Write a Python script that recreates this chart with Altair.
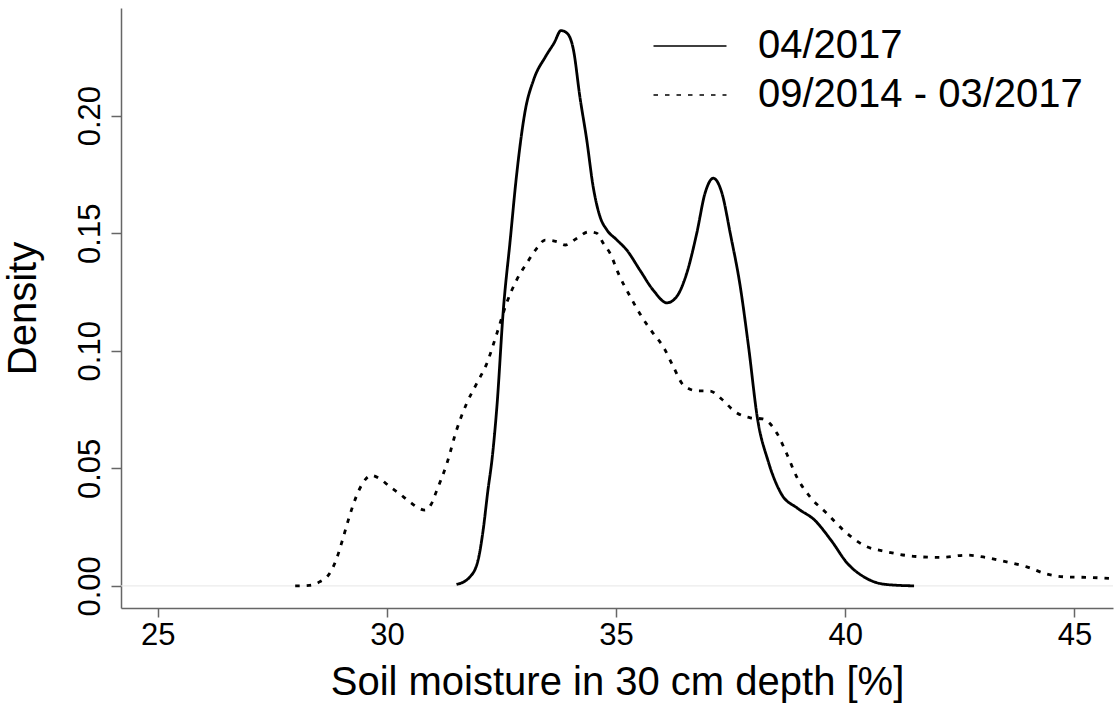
import altair as alt
import pandas as pd

series_names = ["04/2017", "09/2014 - 03/2017"]

# 04/2017 density curve (solid)
apr2017_x = [31.52, 31.81, 31.99, 32.10, 32.20, 32.30, 32.40, 32.54, 32.69, 32.82,
             33.02, 33.20, 33.46, 33.65, 33.80, 33.93, 34.07, 34.21, 34.36, 34.50,
             34.65, 34.80, 35.02, 35.23, 35.52, 35.81, 36.11, 36.32, 36.54, 36.76,
             36.94, 37.12, 37.31, 37.49, 37.71, 37.89, 38.09, 38.31, 38.60, 38.96,
             39.33, 39.69, 40.05, 40.41, 40.85, 41.50]
apr2017_y = [0.0006, 0.0038, 0.0110, 0.0237, 0.0400, 0.0549, 0.0762, 0.1173, 0.1470, 0.1730,
             0.2024, 0.2152, 0.2251, 0.2310, 0.2362, 0.2351, 0.2280, 0.2081, 0.1897, 0.1698,
             0.1570, 0.1514, 0.1471, 0.1429, 0.1343, 0.1258, 0.1204, 0.1230, 0.1329, 0.1500,
             0.1670, 0.1734, 0.1670, 0.1500, 0.1272, 0.1017, 0.0705, 0.0535, 0.0393, 0.0330,
             0.0280, 0.0194, 0.0095, 0.0038, 0.0007, 0.0000]

# 09/2014 - 03/2017 density curve (dotted)
hist_x = [28.00, 28.31, 28.53, 28.75, 28.89, 29.03, 29.18, 29.33, 29.47, 29.66,
          29.85, 30.07, 30.27, 30.50, 30.70, 30.83, 30.96, 31.09, 31.31, 31.52,
          31.74, 31.96, 32.18, 32.40, 32.61, 32.83, 33.05, 33.27, 33.45, 33.71,
          33.89, 34.14, 34.40, 34.58, 34.72, 34.87, 35.05, 35.31, 35.56, 35.81,
          36.03, 36.25, 36.47, 36.76, 37.05, 37.30, 37.60, 37.93, 38.20, 38.51,
          38.72, 38.94, 39.23, 39.60, 39.96, 40.40, 40.91, 41.49, 42.07, 42.65,
          43.01, 43.52, 43.96, 44.40, 44.83, 45.34, 45.82]
hist_y = [0.0000, 0.0002, 0.0017, 0.0053, 0.0109, 0.0194, 0.0294, 0.0379, 0.0436, 0.0470,
          0.0455, 0.0421, 0.0393, 0.0357, 0.0330, 0.0322, 0.0345, 0.0407, 0.0521, 0.0663,
          0.0776, 0.0861, 0.0946, 0.1074, 0.1202, 0.1301, 0.1372, 0.1436, 0.1471, 0.1464,
          0.1450, 0.1478, 0.1506, 0.1500, 0.1457, 0.1414, 0.1329, 0.1230, 0.1145, 0.1074,
          0.1017, 0.0932, 0.0854, 0.0830, 0.0829, 0.0795, 0.0740, 0.0715, 0.0710, 0.0649,
          0.0563, 0.0464, 0.0379, 0.0308, 0.0237, 0.0173, 0.0145, 0.0126, 0.0121, 0.0131,
          0.0123, 0.0102, 0.0081, 0.0050, 0.0038, 0.0036, 0.0031]

x_ticks = [25, 30, 35, 40, 45]
y_ticks = [0.00, 0.05, 0.10, 0.15, 0.20]
zero_level = [0.0]

FONT = "Liberation Sans"
AXIS_GRAY = "#666666"

df = pd.concat([
    pd.DataFrame({"moisture": apr2017_x, "density": apr2017_y,
                  "series": series_names[0], "idx": range(len(apr2017_x))}),
    pd.DataFrame({"moisture": hist_x, "density": hist_y,
                  "series": series_names[1], "idx": range(len(hist_x))}),
], ignore_index=True)

x_enc = alt.X(
    "moisture:Q",
    scale=alt.Scale(domain=[24.2, 45.84], nice=False, zero=False),
    axis=alt.Axis(
        values=x_ticks, title="Soil moisture in 30 cm depth [%]", grid=False,
        domainColor=AXIS_GRAY, domainWidth=1.5, tickColor=AXIS_GRAY, tickWidth=1.5,
        tickSize=9, labelPadding=3, labelFontSize=31, labelFont=FONT, labelColor="black",
        titleFontSize=40, titleFont=FONT, titleFontWeight="normal", titleColor="black",
        titleBaseline="alphabetic", titleY=86, labelFlush=False,
    ),
)
y_enc = alt.Y(
    "density:Q",
    scale=alt.Scale(domain=[-0.0094, 0.2458], nice=False, zero=False),
    axis=alt.Axis(
        values=y_ticks, format=".2f", title="Density", grid=False,
        domainColor=AXIS_GRAY, domainWidth=1.5, tickColor=AXIS_GRAY, tickWidth=1.5,
        tickSize=10, labelPadding=12, labelFontSize=31, labelFont=FONT, labelColor="black",
        labelAngle=270, labelAlign="center", labelBaseline="alphabetic", labelFlush=False,
        titleFontSize=40, titleFont=FONT, titleFontWeight="normal", titleColor="black",
        titleAngle=270, titleAlign="center", titleBaseline="alphabetic",
        titleX=-86, titleY=300,
    ),
)

zero_rule = alt.Chart(pd.DataFrame({"density": zero_level})).mark_rule(
    color="#e6e6e6", strokeWidth=1
).encode(y=y_enc)

lines = alt.Chart(df).mark_line(
    color="black", strokeWidth=2.8, clip=True, interpolate="monotone", strokeCap="butt"
).encode(
    x=x_enc,
    y=y_enc,
    order="idx:Q",
    strokeDash=alt.StrokeDash(
        "series:N",
        scale=alt.Scale(domain=series_names, range=[[1, 0], [4.5, 7]]),
        legend=alt.Legend(
            title=None, orient="none", legendX=549, legendY=18,
            symbolType="M-2,0H2", symbolSize=1332, symbolStrokeWidth=1.5,
            symbolStrokeColor="black", labelFontSize=40, labelFont=FONT,
            labelColor="black", labelOffset=48, rowPadding=9, labelLimit=0,
        ),
    ),
)

chart = alt.layer(zero_rule, lines).properties(
    width=992, height=600,
    autosize=alt.AutoSizeParams(type="none"),
    padding={"left": 121, "top": 8, "right": 3, "bottom": 96},
    background="white",
).configure_view(stroke=None)

chart.save("out.html", embed_options={"renderer": "svg", "actions": False})
